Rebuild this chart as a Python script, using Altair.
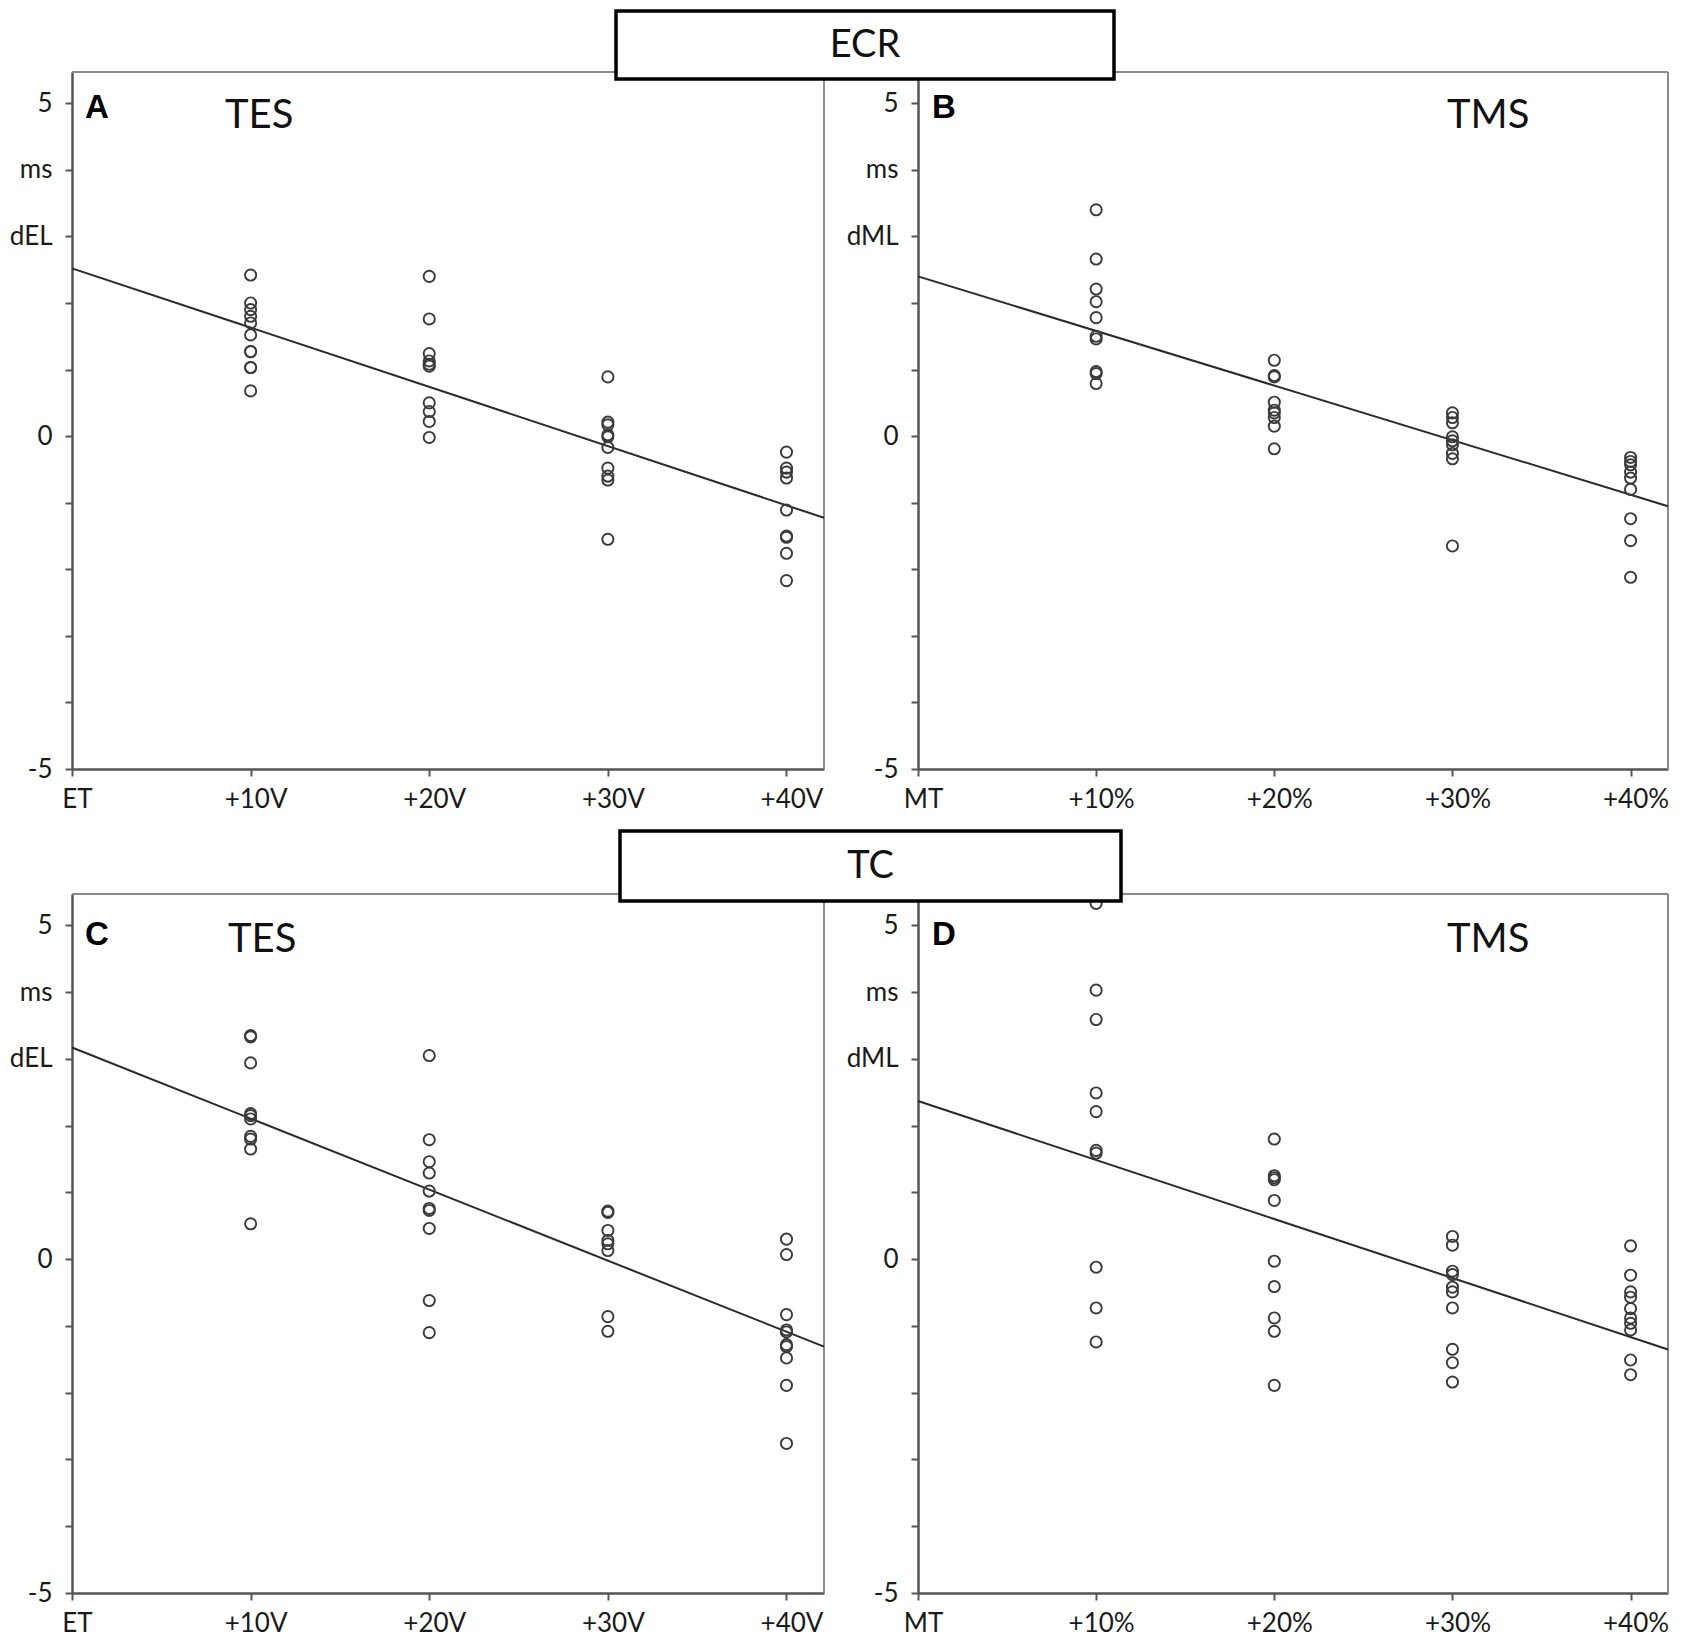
import json
import altair as alt
import pandas as pd

# ---------------- data ----------------
LEVELS = [1, 2, 3, 4]
TES_TICKS = ["ET", "+10V", "+20V", "+30V", "+40V"]
TMS_TICKS = ["MT", "+10%", "+20%", "+30%", "+40%"]

# Panel A  (ECR, TES)  dEL in ms
A10 = [2.42, 2.00, 1.90, 1.80, 1.70, 1.52, 1.27, 1.27, 1.03, 1.03, 0.68]
A20 = [2.40, 1.76, 1.24, 1.13, 1.08, 1.05, 0.50, 0.37, 0.22, -0.02]
A30 = [0.89, 0.21, 0.17, 0.02, -0.01, -0.17, -0.48, -0.60, -0.66, -1.55]
A40 = [-0.24, -0.48, -0.54, -0.63, -1.11, -1.50, -1.52, -1.76, -2.17]
LINE_A = [2.52, -0.89]   # intercept, slope

# Panel B  (ECR, TMS)  dML in ms
B10 = [3.40, 2.66, 2.21, 2.02, 1.78, 1.50, 1.46, 0.97, 0.94, 0.79]
B20 = [1.14, 0.91, 0.89, 0.51, 0.39, 0.35, 0.28, 0.15, -0.19]
B30 = [0.35, 0.28, 0.20, -0.01, -0.07, -0.13, -0.26, -0.34, -1.65]
B40 = [-0.32, -0.38, -0.43, -0.54, -0.63, -0.80, -1.24, -1.57, -2.12]
LINE_B = [2.40, -0.82]

# Panel C  (TC, TES)
C10 = [3.35, 3.33, 2.94, 2.18, 2.15, 2.10, 1.84, 1.80, 1.65, 0.53]
C20 = [3.05, 1.79, 1.46, 1.29, 1.02, 0.76, 0.73, 0.46, -0.62, -1.10]
C30 = [0.72, 0.70, 0.43, 0.28, 0.23, 0.13, -0.86, -1.08]
C40 = [0.30, 0.07, -0.83, -1.06, -1.09, -1.28, -1.31, -1.48, -1.89, -2.76]
LINE_C = [3.17, -1.064]

# Panel D  (TC, TMS)
D10 = [5.33, 4.03, 3.59, 2.49, 2.21, 1.63, 1.59, -0.12, -0.73, -1.24]
D20 = [1.80, 1.25, 1.22, 1.19, 0.88, -0.03, -0.41, -0.88, -1.08, -1.89]
D30 = [0.34, 0.21, -0.18, -0.23, -0.42, -0.49, -0.73, -1.35, -1.55, -1.84]
D40 = [0.20, -0.24, -0.49, -0.57, -0.74, -0.88, -0.96, -1.06, -1.51, -1.73]
LINE_D = [2.37, -0.884]

Y_TICKS = list(range(-5, 6))
XMAX = 4.21
YMAX = 5.47

LABEL_FONT = "Lato"
AXIS_COLOR = "#555555"
FRAME_COLOR = "#8a8a8a"
POINT_COLOR = "#3a3a3a"


def make_panel(groups, line_ab, xticks, ylab, letter, method, letter_dx, letter_base,
               method_dx, method_base, width, height, box=None):
    rows = []
    for lvl, vals in zip(LEVELS, groups):
        for v in vals:
            rows.append({"level": lvl, "value": v})
    pts = pd.DataFrame(rows)
    a, b = line_ab
    line_df = pd.DataFrame({"level": [0.0, XMAX], "value": [a, a + b * XMAX]})
    one = pd.DataFrame({"k": [0]})

    x_labels = json.dumps(xticks)
    y_expr = ("datum.value == 5 ? '5' : datum.value == 4 ? 'ms' : datum.value == 3 ? '%s' : "
              "datum.value == 0 ? '0' : datum.value == -5 ? '-5' : ''" % ylab)

    x_enc = alt.X(
        "level:Q",
        scale=alt.Scale(domain=[0, XMAX], nice=False, zero=False),
        axis=alt.Axis(values=[0, 1, 2, 3, 4], labelExpr=x_labels + "[datum.value]",
                      title=None, grid=False, labelFlush=False, labelOffset=5,
                      labelFont=LABEL_FONT, labelFontSize=26, labelColor="#1a1a1a",
                      labelPadding=10, tickSize=7, tickWidth=2, tickColor=AXIS_COLOR,
                      domainColor=AXIS_COLOR, domainWidth=2.5),
    )
    y_enc = alt.Y(
        "value:Q",
        scale=alt.Scale(domain=[-5, YMAX], nice=False, zero=False),
        axis=alt.Axis(values=Y_TICKS, labelExpr=y_expr, title=None, grid=False,
                      labelFont=LABEL_FONT, labelFontSize=26, labelColor="#1a1a1a",
                      labelPadding=13, tickSize=7, tickWidth=2, tickColor=AXIS_COLOR,
                      domainColor=AXIS_COLOR, domainWidth=2.5, labelBaseline="middle"),
    )

    top_rule = alt.Chart(one).mark_rule(color=FRAME_COLOR, strokeWidth=2).encode(
        x=alt.value(0), x2=alt.value(width), y=alt.value(0))
    right_rule = alt.Chart(one).mark_rule(color=FRAME_COLOR, strokeWidth=2).encode(
        x=alt.value(width), y=alt.value(0), y2=alt.value(height))

    line = alt.Chart(line_df).mark_line(color="#2a2a2a", strokeWidth=2).encode(x=x_enc, y=y_enc)
    points = alt.Chart(pts).mark_point(shape="circle", filled=False, size=125,
                                       color=POINT_COLOR, strokeWidth=1.9,
                                       opacity=1).encode(x=x_enc, y=y_enc)

    letter_txt = alt.Chart(one).mark_text(
        text=letter, font="Liberation Sans", fontWeight="bold", fontSize=33,
        align="left", baseline="alphabetic", color="black").encode(
        x=alt.value(letter_dx), y=alt.value(letter_base))
    method_txt = alt.Chart(one).mark_text(
        text=method, font=LABEL_FONT, fontSize=40, align="left",
        baseline="alphabetic", color="#111111").encode(
        x=alt.value(method_dx), y=alt.value(method_base))

    layers = [top_rule, right_rule, line, points, letter_txt, method_txt]

    if box is not None:
        name, bx0, bx1, by0, by1 = box
        rect = alt.Chart(one).mark_rect(fill="white", stroke="black", strokeWidth=3.5).encode(
            x=alt.value(bx0), x2=alt.value(bx1), y=alt.value(by0), y2=alt.value(by1))
        btxt = alt.Chart(one).mark_text(
            text=name, font=LABEL_FONT, fontSize=38, align="center",
            baseline="middle", color="#111111").encode(
            x=alt.value((bx0 + bx1) / 2), y=alt.value((by0 + by1) / 2 + 1))
        layers += [rect, btxt]

    return alt.layer(*layers).properties(width=width, height=height)


COL1_W = 752
COL2_W = 750

panel_a = make_panel([A10, A20, A30, A40], LINE_A, TES_TICKS, "dEL", "A", "TES",
                     13, 46, 153, 56, COL1_W, 697)
panel_b = make_panel([B10, B20, B30, B40], LINE_B, TMS_TICKS, "dML", "B", "TMS",
                     14, 46, 529, 56, COL2_W, 697,
                     box=("ECR", -302, 196, -61, 7))
panel_c = make_panel([C10, C20, C30, C40], LINE_C, TES_TICKS, "dEL", "C", "TES",
                     13, 51, 156, 58, COL1_W, 699)
panel_d = make_panel([D10, D20, D30, D40], LINE_D, TMS_TICKS, "dML", "D", "TMS",
                     14, 51, 529, 58, COL2_W, 699,
                     box=("TC", -298, 203, -63, 7))

chart = alt.concat(
    panel_a, panel_b, panel_c, panel_d,
    columns=2,
    spacing=alt.RowColnumber(row=125, column=94),
    bounds="flush",
).properties(padding=0).configure_view(stroke="transparent").configure(
    font=LABEL_FONT, background="white")

chart.save("out.html", embed_options={"renderer": "svg", "actions": False})
